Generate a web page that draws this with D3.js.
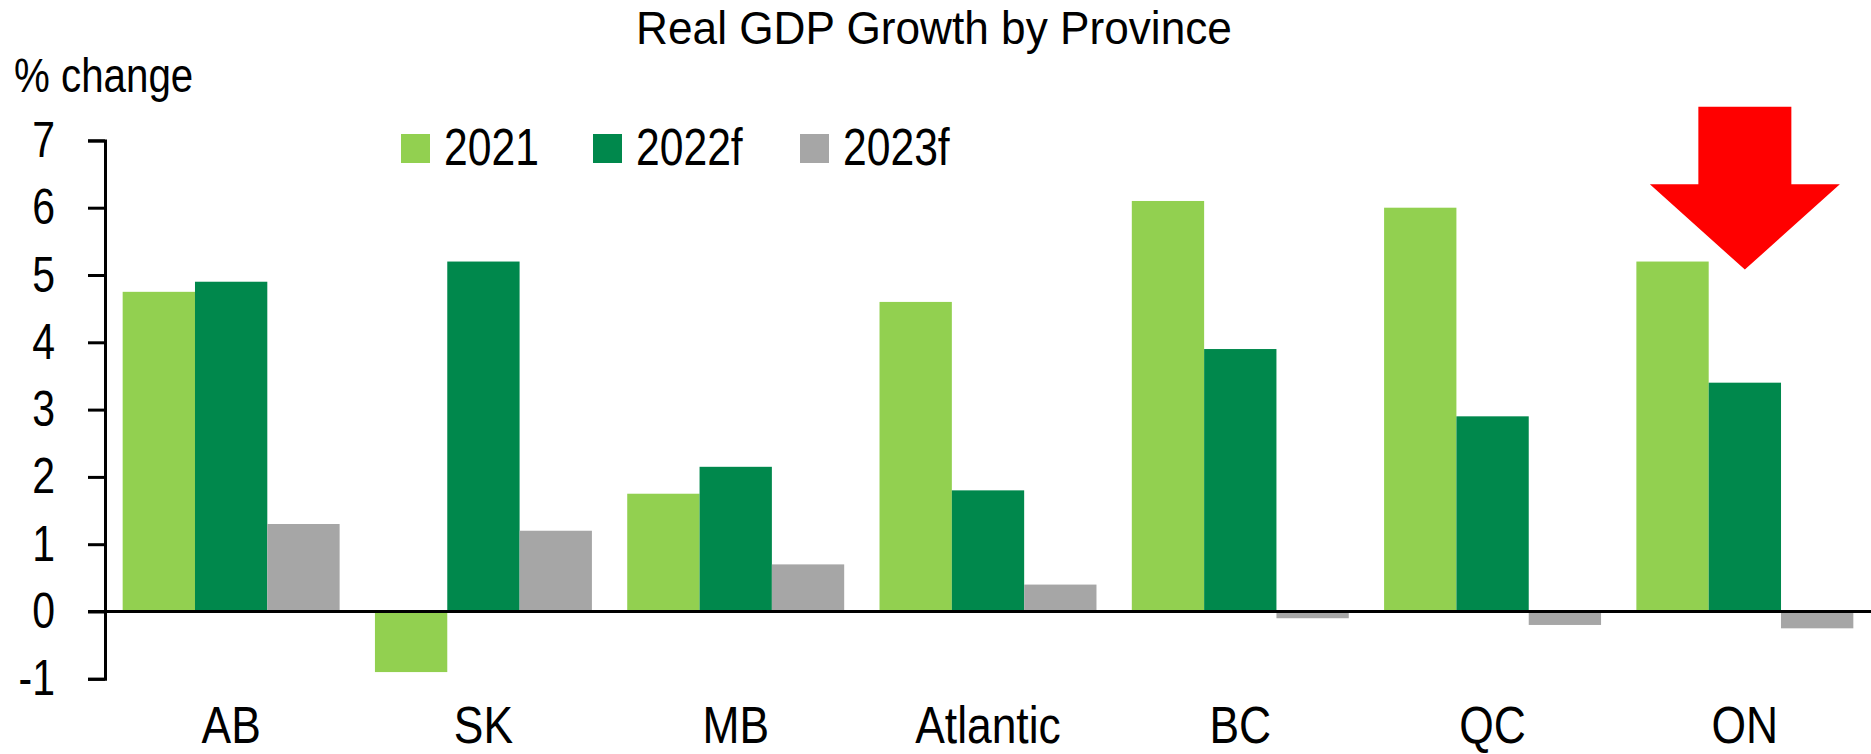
<!DOCTYPE html>
<html>
<head>
<meta charset="utf-8">
<script src="https://cdn.jsdelivr.net/npm/d3@7"></script>
<style>
  html, body { margin: 0; padding: 0; background: #ffffff; }
  svg { display: block; }
  text { font-family: 'Liberation Sans', Arial, sans-serif; fill: #000; }
</style>
</head>
<body>
<svg id="chart" width="1871" height="754"></svg>
<script>
// ---- data ----
const categories = ["AB", "SK", "MB", "Atlantic", "BC", "QC", "ON"];
const seriesNames = ["2021", "2022f", "2023f"];
const values2021  = [4.75, -0.9, 1.75, 4.6, 6.1, 6.0, 5.2];
const values2022f = [4.9, 5.2, 2.15, 1.8, 3.9, 2.9, 3.4];
const values2023f = [1.3, 1.2, 0.7, 0.4, -0.1, -0.2, -0.25];
const yTicks = [-1, 0, 1, 2, 3, 4, 5, 6, 7];
const titleText = "Real GDP Growth by Province";
const yLabelText = "% change";
// annotation arrow (value units), pointing at ON 2022f
const arrowCategory = "ON";
const arrowSeries = "2022f";
const arrowTop = 7.5, arrowShoulder = 6.35, arrowTip = 5.08;

const colors = ["#92D050", "#00884C", "#A6A6A6"];

// ---- layout ----
const W = 1871, H = 754;
const svg = d3.select("#chart");
const x0 = d3.scaleBand().domain(categories).range([105, W]).paddingInner(0.14).paddingOuter(0.07);
const x1 = d3.scaleBand().domain(seriesNames).range([0, x0.bandwidth()]);
const y = d3.scaleLinear().domain([-1, 7]).range([678.8, 140.4]);
const color = d3.scaleOrdinal().domain(seriesNames).range(colors);

// horizontal condensing to mimic a condensed typeface
function condense(sel, sx) {
  sel.each(function () {
    const t = d3.select(this);
    const tx = +t.attr("x") || 0, ty = +t.attr("y") || 0;
    t.attr("x", 0).attr("y", 0).attr("transform", `translate(${tx},${ty}) scale(${sx},1)`);
  });
}

const rows = categories.map((c, i) => ({
  cat: c,
  vals: [values2021[i], values2022f[i], values2023f[i]].map((v, j) => ({ s: seriesNames[j], v }))
}));

// bars
const g = svg.append("g");
g.selectAll("g.grp").data(rows).join("g")
  .attr("class", "grp")
  .attr("transform", d => `translate(${x0(d.cat)},0)`)
  .selectAll("rect").data(d => d.vals).join("rect")
  .attr("x", d => x1(d.s))
  .attr("width", x1.bandwidth())
  .attr("y", d => y(Math.max(0, d.v)))
  .attr("height", d => Math.abs(y(d.v) - y(0)))
  .attr("fill", d => color(d.s));

// y axis
const yAxis = d3.axisLeft(y).tickValues(yTicks).tickSize(17).tickPadding(33).tickFormat(d => String(d));
const ya = svg.append("g").attr("transform", "translate(105,0)").call(yAxis);
ya.select(".domain").attr("stroke", "#000").attr("stroke-width", 3).attr("fill", "none");
ya.selectAll(".tick line").attr("stroke", "#000").attr("stroke-width", 3);
ya.selectAll(".tick text").attr("font-size", 50).attr("font-family", null).attr("fill", "#000");
condense(ya.selectAll(".tick text"), 0.82);

// zero line
svg.append("line")
  .attr("x1", 88).attr("x2", W)
  .attr("y1", y(0)).attr("y2", y(0))
  .attr("stroke", "#000").attr("stroke-width", 3);

// category labels
const cl = svg.append("g").selectAll("text").data(categories).join("text")
  .attr("x", d => x0(d) + x0.bandwidth() / 2)
  .attr("y", 743)
  .attr("text-anchor", "middle")
  .attr("font-size", 51)
  .text(d => d);
condense(cl, 0.87);

// title
const tt = svg.append("text")
  .attr("x", 934).attr("y", 44)
  .attr("text-anchor", "middle")
  .attr("font-size", 47)
  .text(titleText);
condense(tt, 0.94);

// y label
const yl = svg.append("text")
  .attr("x", 14).attr("y", 92)
  .attr("font-size", 48)
  .text(yLabelText);
condense(yl, 0.84);

// legend
const legendX = [401, 593, 800];
const lg = svg.append("g").selectAll("g").data(seriesNames).join("g")
  .attr("transform", (d, i) => `translate(${legendX[i]},134)`);
lg.append("rect").attr("width", 29).attr("height", 29).attr("fill", d => color(d));
const lt = lg.append("text").attr("x", 43).attr("y", 31).attr("font-size", 52).text(d => d);
condense(lt, 0.82);

// arrow
const ac = x0(arrowCategory) + x1(arrowSeries) + x1.bandwidth() / 2;
const shaftHalf = 46.5, headHalf = 95;
const pts = [
  [ac - shaftHalf, y(arrowTop)],
  [ac + shaftHalf, y(arrowTop)],
  [ac + shaftHalf, y(arrowShoulder)],
  [ac + headHalf, y(arrowShoulder)],
  [ac, y(arrowTip)],
  [ac - headHalf, y(arrowShoulder)],
  [ac - shaftHalf, y(arrowShoulder)]
];
svg.append("path")
  .attr("d", d3.line()(pts) + "Z")
  .attr("fill", "#FF0000");
</script>
</body>
</html>
